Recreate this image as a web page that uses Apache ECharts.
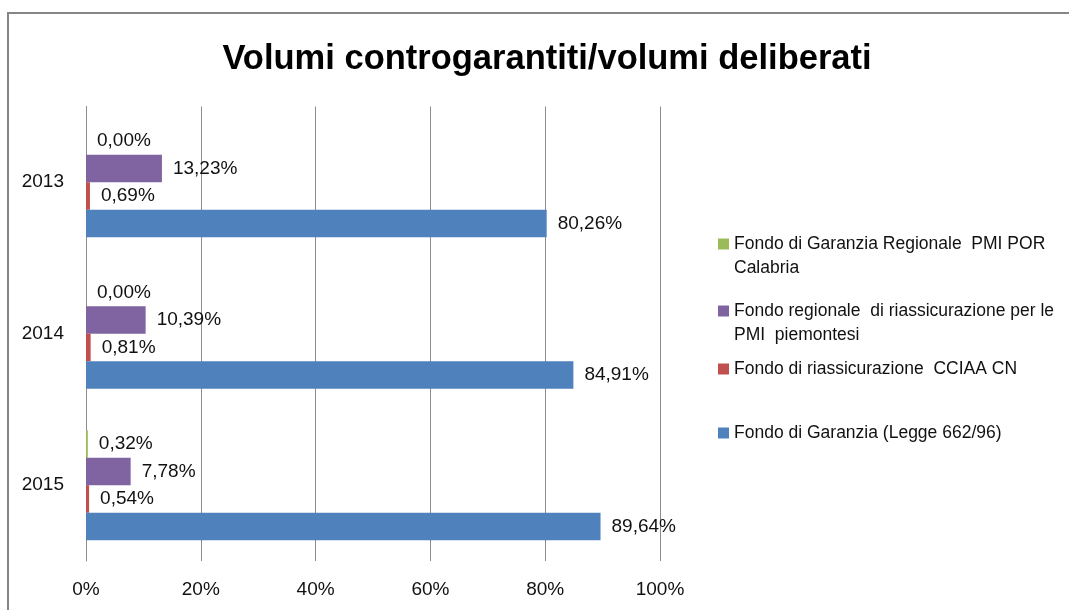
<!DOCTYPE html>
<html>
<head>
<meta charset="utf-8">
<script src="https://cdn.jsdelivr.net/npm/echarts@6/dist/echarts.min.js"></script>
<style>
  html, body { margin: 0; padding: 0; background: #fff; }
  #main { width: 1069px; height: 610px; }
</style>
</head>
<body>
<div id="main"></div>
<script>
// dati
var anni = ['2013', '2014', '2015'];
var nomiSerie = [
    'Fondo di Garanzia Regionale PMI POR Calabria',
    'Fondo regionale di riassicurazione per le PMI piemontesi',
    'Fondo di riassicurazione  CCIAA CN',
    'Fondo di Garanzia (Legge 662/96)'
];
var calabria = [0.00, 0.00, 0.32];
var piemonte = [13.23, 10.39, 7.78];
var cciaaCn = [0.69, 0.81, 0.54];
var legge662 = [80.26, 84.91, 89.64];
var tickX = [0, 20, 40, 60, 80, 100];

var colori = ['#9BBB59', '#8064A2', '#C0504D', '#4F81BD'];
var valori = [calabria, piemonte, cciaaCn, legge662];

// testo legenda (a capo come nell'originale)
var testoLegenda = {};
testoLegenda[nomiSerie[0]] = '\nFondo di Garanzia Regionale  PMI POR\nCalabria';
testoLegenda[nomiSerie[1]] = '\nFondo regionale  di riassicurazione per le\nPMI  piemontesi';
testoLegenda[nomiSerie[2]] = 'Fondo di riassicurazione  CCIAA CN';
testoLegenda[nomiSerie[3]] = 'Fondo di Garanzia (Legge 662/96)';
var topLegenda = [208, 275, 357, 421];

var myChart = echarts.init(document.getElementById('main'));

var font = 'Liberation Sans';

var legende = [];
for (var k = 0; k < nomiSerie.length; k++) {
    legende.push({
        data: [nomiSerie[k]],
        orient: 'vertical',
        left: 718,
        top: topLegenda[k],
        padding: 0,
        itemWidth: 11,
        itemHeight: 11,
        icon: 'rect',
        formatter: function (n) { return testoLegenda[n]; },
        textStyle: { fontFamily: font, fontSize: 17.5, lineHeight: 24, color: '#111' }
    });
}

var serie = [];
for (var i = 0; i < nomiSerie.length; i++) {
    serie.push({
        name: nomiSerie[i],
        type: 'bar',
        data: valori[i],
        barWidth: 27.5,
        barGap: '0%',
        itemStyle: { color: colori[i] },
        label: {
            show: true,
            position: 'right',
            distance: 11,
            fontFamily: font,
            fontSize: 19,
            color: '#111',
            formatter: function (p) { return p.value.toFixed(2).replace('.', ',') + '%'; }
        }
    });
}

var option = {
    backgroundColor: '#fff',
    animation: false,
    title: {
        text: 'Volumi controgarantiti/volumi deliberati',
        left: 542,
        textAlign: 'center',
        top: 37,
        textStyle: {
            fontFamily: font,
            fontWeight: 'bold',
            fontSize: 34.5,
            color: '#000'
        }
    },
    graphic: [{
        type: 'rect',
        shape: { x: 8, y: 13, width: 1100, height: 700 },
        style: { fill: 'none', stroke: '#868686', lineWidth: 2 },
        silent: true
    }],
    legend: legende,
    grid: { left: 86, right: 409, top: 106.5, bottom: 49, containLabel: false },
    xAxis: {
        type: 'value',
        min: tickX[0],
        max: tickX[tickX.length - 1],
        interval: tickX[1] - tickX[0],
        axisLine: { show: false },
        axisTick: { show: false },
        axisLabel: { fontFamily: font, fontSize: 19, color: '#111', margin: 19, formatter: '{value}%' },
        splitLine: { show: true, lineStyle: { color: '#8c8c8c', width: 1 } }
    },
    yAxis: {
        type: 'category',
        data: anni,
        inverse: true,
        axisLine: { show: true, lineStyle: { color: '#8c8c8c', width: 1 } },
        axisTick: { show: false },
        axisLabel: { fontFamily: font, fontSize: 19, color: '#111', margin: 22 }
    },
    series: serie
};

myChart.setOption(option);
</script>
</body>
</html>
